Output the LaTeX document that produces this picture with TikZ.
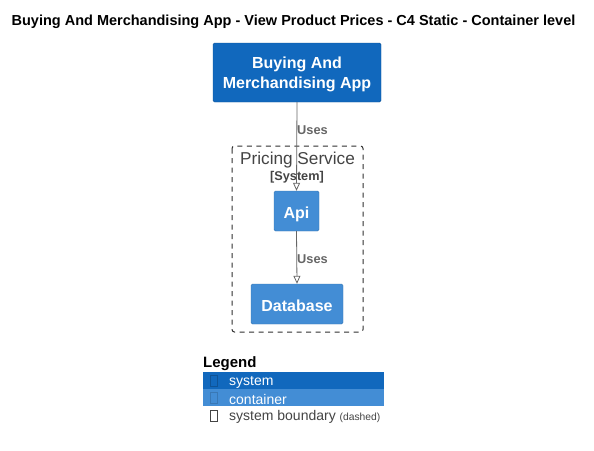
\documentclass[tikz,border=0pt]{standalone}
\usepackage{fontspec}
\setmainfont{Liberation Sans}
\usetikzlibrary{arrows.meta}
\definecolor{sysblue}{HTML}{1168BD}
\definecolor{contblue}{HTML}{438DD5}
\definecolor{bdgray}{HTML}{444444}
\definecolor{lgray}{HTML}{666666}
\begin{document}
\begin{tikzpicture}[x=1pt,y=-1pt,
  sysbox/.style={fill=sysblue,draw=sysblue!80!black,line width=0.4pt,rounded corners=1.5pt,text=white,font=\fontsize{16}{20}\selectfont\bfseries,align=center,inner sep=0pt,text depth=-3pt},
  contbox/.style={fill=contblue,draw=contblue!85!black,line width=0.4pt,rounded corners=1.5pt,text=white,font=\fontsize{16}{20}\selectfont\bfseries,align=center,inner sep=0pt,text height=15.2pt,text depth=0pt},
  rel/.style={draw=lgray,line width=0.8pt,-{Triangle[open,length=8pt,width=7pt]}},
  rellabel/.style={text=lgray,font=\fontsize{12.8}{14}\selectfont\bfseries,inner sep=0pt,anchor=west},
  legtxt/.style={font=\fontsize{14}{16}\selectfont,inner sep=0pt,anchor=west}]
\useasboundingbox[fill=white] (0,0) rectangle (594,450);
\node[font=\fontsize{14.5}{16}\selectfont\bfseries,inner sep=0pt] (title) at (293.5,21.5) {Buying And Merchandising App - View Product Prices - C4 Static - Container level};
% boundary
\draw[dash pattern=on 5pt off 4.5pt,draw=bdgray!70!black,line width=1pt,rounded corners=2.5pt] (232,146) rectangle (363,332);
\node[text=bdgray,font=\fontsize{17.2}{19}\selectfont,inner sep=0pt] (bname) at (297.5,160) {Pricing Service};
\node[text=bdgray,font=\fontsize{12.7}{14}\selectfont\bfseries,inner sep=0pt] (btype) at (297,177) {[System]};
% nodes
\node[sysbox,minimum width=168pt,minimum height=59pt] (app) at (297,72.5) {Buying And\\Merchandising App};
\node[contbox,minimum width=45pt,minimum height=40pt] (api) at (296.5,211) {Api};
\node[contbox,minimum width=92pt,minimum height=40pt] (db) at (297,304) {Database};
% relations
\draw[rel] (app.south) -- (api.north);
\node[rellabel] (l1) at (297,130.5) {Uses};
\draw[rel] (api.south) -- (db.north);
\node[rellabel] (l2) at (297,259.5) {Uses};
% legend
\node[font=\fontsize{15}{17}\selectfont\bfseries,inner sep=0pt,anchor=west] (leg) at (203,364) {Legend};
\fill[sysblue] (203,372) rectangle (384,389);
\fill[contblue] (203,389) rectangle (384,406);
\draw[sysblue!80!black,line width=0.5pt] (210.5,375.5) rectangle (217.5,386.5);
\draw[contblue!85!black,line width=0.5pt] (210.5,392.5) rectangle (217.5,403.5);
\draw[bdgray,line width=0.5pt] (210.5,410.5) rectangle (217.5,421.5);
\node[legtxt,text=white] (ls) at (229,382) {system};
\node[legtxt,text=white] (lc) at (229,399) {container};
\node[legtxt,text=bdgray] (lb) at (229,417) {system boundary \fontsize{10.3}{12}\selectfont(dashed)};
\end{tikzpicture}
\end{document}
